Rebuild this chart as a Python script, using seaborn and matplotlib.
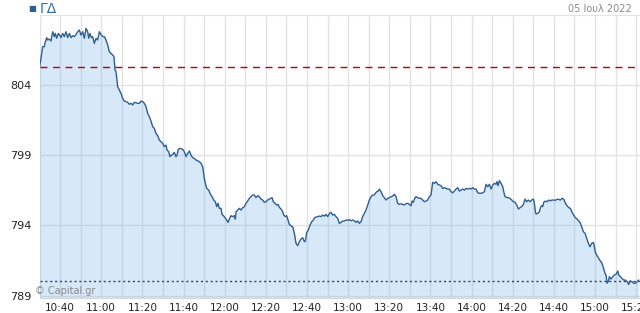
import matplotlib
matplotlib.use("Agg")
import matplotlib.pyplot as plt
import seaborn as sns
import pandas as pd
from matplotlib.ticker import FixedLocator, NullFormatter

# minutes after 10:30
minutes = [0.0, 0.73, 1.54, 2.35, 2.84, 3.49, 3.97, 4.78, 5.59, 6.40, 7.21, 7.70, 8.35, 9.16, 9.97,
           10.45, 11.26, 12.07, 12.88, 13.69, 14.51, 15.32, 16.13, 16.94, 17.75, 18.56, 19.37, 20.18,
           20.99, 21.80, 22.61, 23.42, 23.90, 24.55, 25.20, 25.85, 26.66, 27.47, 28.28, 29.09, 29.90,
           30.71, 31.52, 32.33, 33.14, 33.95, 34.76, 35.57, 36.22, 36.71, 37.19, 38.00, 38.81, 39.62,
           40.43, 41.24, 42.05, 42.86, 43.67, 44.48, 45.29, 46.10,
           47.72, 48.53, 49.34, 50.15, 50.96, 51.77, 52.58, 53.39, 54.20, 55.01, 55.82, 56.63, 57.44,
           58.25, 59.06, 59.87, 60.68, 61.49, 61.98, 62.79, 63.44, 64.09, 64.74, 65.55, 66.36, 66.84,
           67.49, 68.30, 69.11, 69.92, 70.73, 71.22, 72.03, 72.84, 73.65, 74.46, 75.27, 76.08, 76.89,
           77.70, 78.51, 79.32, 80.13, 80.62, 81.26, 82.24, 82.88, 83.86, 84.67, 85.48, 86.13, 86.77,
           87.42, 88.23, 88.72, 89.37, 90.18, 90.99, 91.64, 92.28, 93.10, 93.90, 94.71, 95.20,
           95.53, 96.34, 97.15, 97.96, 98.77, 99.58, 100.39, 101.20, 102.01, 102.82, 103.63, 104.44,
           105.25, 106.06, 106.87, 107.68, 108.49, 109.30, 110.11, 110.92, 111.74, 112.55, 113.03,
           113.68, 114.49, 115.30, 115.95, 116.60, 117.41, 118.22, 118.70, 119.51, 120.16, 120.81,
           121.46, 122.27, 123.08, 123.89, 124.70, 125.51, 126.32, 127.13, 127.94, 128.75, 129.24,
           129.89, 130.70, 131.51, 132.32, 133.13, 133.77, 134.42, 135.23, 136.04, 136.85, 137.66,
           138.47, 139.28, 140.09, 140.90, 141.71, 142.52, 143.33,
           144.14, 144.95, 145.76, 146.57, 147.38, 148.19, 149.00, 149.81, 150.62, 151.43, 152.24,
           153.05, 153.86, 154.67, 155.48, 156.29, 157.10, 157.91, 158.72, 159.53, 160.35, 161.16,
           161.97, 162.78, 163.26, 163.91, 164.72, 165.21, 166.02, 166.83, 167.64, 168.45, 169.26,
           170.07, 170.88, 171.69, 172.50, 173.31, 174.12, 174.93, 175.74, 176.55, 177.36, 178.17,
           178.98, 179.79, 180.60, 181.09, 181.74, 182.38, 183.03, 183.84, 184.65, 185.46, 186.27,
           187.08, 187.89, 188.70, 189.51, 190.32, 191.13, 191.94,
           192.76, 193.57, 194.38, 195.19, 196.00, 196.81, 197.62, 198.43, 199.24, 200.05, 200.86,
           201.67, 202.48, 203.29, 204.10, 204.91, 205.72, 206.53, 207.34, 208.15, 208.97, 209.78,
           210.59, 211.40, 212.21, 213.02, 213.83, 214.64, 215.45, 216.26, 217.07, 217.88, 218.69,
           219.50, 220.31, 221.12, 221.93, 222.41, 222.90, 223.55, 224.36, 225.17, 225.66, 226.30,
           227.11, 227.92, 228.74, 229.55, 230.36, 231.17, 231.98, 232.79, 233.60, 234.41, 235.22,
           236.03, 236.84, 237.65, 238.46, 239.27, 240.08, 240.56, 241.05,
           241.37, 242.18, 242.99, 243.48, 244.12, 244.61, 245.10, 245.91, 246.72, 247.53, 248.34,
           249.15, 249.96, 250.77, 251.58, 252.39, 253.20, 254.01, 254.82, 255.63, 256.44, 257.25,
           258.06, 258.87, 259.68, 260.49, 261.30, 262.11, 262.76, 263.57, 264.38, 265.19, 266.00,
           266.81, 267.62, 268.43, 269.24, 269.73, 270.21, 271.03, 271.84, 272.65, 273.46, 274.10,
           274.91, 275.40, 275.89, 276.53, 277.02, 277.83, 278.64, 279.45, 280.26, 281.07, 281.56,
           282.37, 283.18, 283.99, 284.80, 285.61, 286.42, 287.23, 288.04, 288.85, 289.66, 290.47,
           291.28]

prices = [805.24, 805.88, 806.71, 806.71, 807.06, 807.35, 807.18, 807.25, 807.11, 807.77, 807.42,
          807.65, 807.30, 807.65, 807.49, 807.35, 807.65, 807.42, 807.77, 807.35, 807.65, 807.35,
          807.49, 807.42, 807.58, 807.77, 807.89, 807.53, 807.77, 807.30, 808.01, 807.77, 807.30,
          807.65, 807.35, 807.42, 806.94, 807.30, 807.18, 807.77, 807.58, 807.42, 807.42, 807.18,
          806.83, 806.35, 806.23, 806.11, 806.00, 805.05, 804.93, 803.86, 803.63, 803.39, 803.03,
          802.84, 802.80, 802.75, 802.61, 802.68, 802.56, 802.75,
          802.68, 802.68, 802.84, 802.80, 802.68, 802.44, 801.97, 801.73, 801.42, 801.02, 800.90,
          800.54, 800.38, 800.07, 799.95, 799.83, 799.60, 799.71, 799.36, 799.24, 798.88, 799.00,
          799.05, 799.19, 798.88, 799.00, 799.41, 799.48, 799.43, 799.36, 799.12, 798.88, 799.12,
          799.29, 799.00, 798.81, 798.76, 798.65, 798.60, 798.53, 798.41, 798.17, 797.34, 796.99,
          796.63, 796.51, 796.28, 796.04, 795.80, 795.68, 795.33, 795.57, 795.21, 795.21, 794.78,
          794.69, 794.55, 794.38, 794.21, 794.45, 794.69, 794.62, 794.69, 794.45,
          794.97, 795.09, 795.21, 795.09, 795.26, 795.33, 795.57, 795.73, 795.92, 796.04, 796.16,
          796.16, 795.97, 796.11, 796.04, 795.87, 795.80, 795.64, 795.68, 795.80, 795.87, 795.92,
          795.97, 795.68, 795.57, 795.45, 795.49, 795.28, 795.16, 794.97, 794.73, 794.62, 794.69,
          794.38, 794.07, 793.97, 793.90, 793.43, 792.72, 792.55, 792.84, 793.03, 793.12, 792.84,
          792.88, 793.50, 793.67, 794.02, 794.26, 794.38, 794.55, 794.59, 794.62, 794.66, 794.62,
          794.73, 794.66, 794.78, 794.62, 794.83, 794.93, 794.73, 794.78,
          794.62, 794.50, 794.14, 794.21, 794.31, 794.31, 794.38, 794.36, 794.40, 794.33, 794.38,
          794.33, 794.21, 794.31, 794.14, 794.26, 794.62, 794.85, 795.09, 795.45, 795.80, 796.04,
          796.16, 796.16, 796.28, 796.39, 796.44, 796.58, 796.39, 796.11, 795.97, 795.80, 795.92,
          795.97, 796.04, 796.08, 796.21, 796.04, 795.57, 795.49, 795.54, 795.49, 795.45, 795.54,
          795.57, 795.49, 795.40, 795.73, 795.64, 795.92, 796.04, 795.97, 795.92, 795.92, 795.80,
          795.68, 795.73, 795.80, 796.04, 796.16, 797.06, 796.99,
          797.11, 796.92, 796.87, 796.82, 796.63, 796.68, 796.63, 796.58, 796.58, 796.39, 796.32,
          796.44, 796.58, 796.68, 796.44, 796.51, 796.58, 796.51, 796.63, 796.58, 796.63, 796.58,
          796.68, 796.58, 796.58, 796.32, 796.28, 796.28, 796.32, 796.39, 796.92, 796.75, 796.92,
          796.58, 796.87, 796.99, 796.92, 797.11, 796.82, 797.18, 796.99, 796.75, 796.39, 796.04,
          795.99, 795.97, 795.92, 795.80, 795.68, 795.64, 795.45, 795.16, 795.26, 795.33, 795.49,
          795.87, 795.68, 795.80, 795.68, 795.80, 795.87, 795.57, 794.97,
          794.81, 794.85, 794.97, 795.26, 795.40, 795.33, 795.64, 795.73, 795.68, 795.80, 795.75,
          795.80, 795.80, 795.78, 795.85, 795.85, 795.80, 795.92, 795.87, 795.57, 795.40, 795.26,
          795.21, 794.93, 794.73, 794.55, 794.45, 794.31, 794.21, 793.90, 793.55, 793.43, 793.07,
          792.72, 792.48, 792.72, 792.79, 792.48, 792.08, 791.84, 791.65, 791.46, 791.30, 790.99,
          790.59, 790.47, 789.88, 790.04, 790.35, 790.18, 790.35, 790.47, 790.52, 790.75, 790.47,
          790.35, 790.23, 790.11, 790.11, 790.00, 789.80, 790.04, 790.00, 789.88, 789.88, 790.00,
          790.11]

prev_close = 805.24
low_line = 790.02
y_ticks = [789, 794, 799, 804]
x_label_minutes = [10, 30, 50, 70, 90, 110, 130, 150, 170, 190, 210, 230, 250, 270, 290]
x_labels = ["10:40", "11:00", "11:20", "11:40", "12:00", "12:20", "12:40", "13:00", "13:20",
            "13:40", "14:00", "14:20", "14:40", "15:00", "15:20"]
title = "ΓΔ"
date_text = "05 Ιουλ 2022"
credit = "© Capital.gr"

df = pd.DataFrame({"minute": minutes, "price": prices})

sns.set_style("white")
plt.rcParams["font.family"] = ["DejaVu Sans"]

fig = plt.figure(figsize=(6.4, 3.13), dpi=100)
ax = fig.add_axes([39.5 / 640, 15.5 / 313, 1 - 39.5 / 640, 282.5 / 313])

ymin, ymax = 788.87, 808.96
ax.set_ylim(ymin, ymax)
ax.set_xlim(0, 291.9)

grid_col = "#e3e3e3"
ax.set_axisbelow(True)
ax.xaxis.set_major_locator(FixedLocator(x_label_minutes))
ax.xaxis.set_minor_locator(FixedLocator([m - 10 for m in x_label_minutes]))
ax.set_xticklabels(x_labels)
ax.xaxis.set_minor_formatter(NullFormatter())
ax.grid(True, which="both", axis="x", color=grid_col, lw=1)
ax.set_yticks(y_ticks)
ax.grid(True, which="major", axis="y", color=grid_col, lw=1)

ax.fill_between(df["minute"], df["price"], ymin, color="#7cb5ec", alpha=0.3, lw=0, zorder=2)
sns.lineplot(data=df, x="minute", y="price", ax=ax, color="#2f5f8f", lw=1.0, zorder=3)

ax.axhline(prev_close, color="#c00000", lw=1.0, ls=(0, (5, 4)), zorder=4)
ax.axhline(low_line, color="#33446a", lw=1.0, ls=(0, (1.5, 2)), zorder=4)

ax.set_xlabel("")
ax.set_ylabel("")
for s in ["left", "right"]:
    ax.spines[s].set_visible(False)
ax.spines["top"].set_color(grid_col)
ax.spines["bottom"].set_color("#d6d6d6")

ax.tick_params(axis="x", which="major", length=0, labelsize=7.5, labelcolor="#222222", pad=4)
ax.tick_params(axis="x", which="minor", length=4, color="#cccccc", width=1)
ax.tick_params(axis="y", length=4, color="#cccccc", labelsize=8, labelcolor="#222222", pad=2)

fig.text(35 / 640, 1 - 291 / 313, credit, fontsize=7, color="#888888",
         ha="left", va="center", zorder=5)

fig.text(28 / 640, 1 - 9 / 313, "■", fontsize=6, color="#2f5f8f", ha="left", va="center")
fig.text(40 / 640, 1 - 9 / 313, title, fontsize=10, color="#2f6fa8", ha="left", va="center")
fig.text(632 / 640, 1 - 9 / 313, date_text, fontsize=7, color="#888888", ha="right", va="center")

fig.savefig("out.png", dpi=100)
